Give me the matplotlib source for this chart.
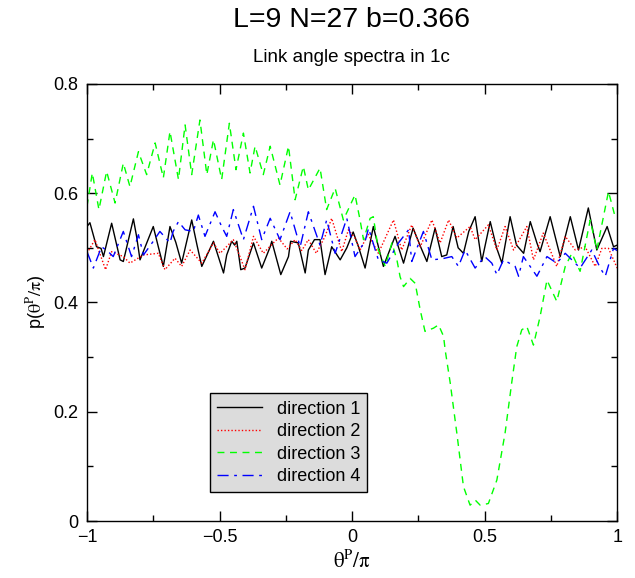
import numpy as np
import matplotlib
matplotlib.use("Agg")
import matplotlib.pyplot as plt

plt.rcParams['font.family'] = ['Liberation Sans', 'DejaVu Sans']
plt.rcParams['mathtext.fontset'] = 'stix'

# direction 1 (black, solid)
x1 = [-1.0, -0.989, -0.964, -0.947, -0.938, -0.907, -0.875, -0.863, -0.825, -0.813,
      -0.800, -0.750, -0.730, -0.712, -0.687, -0.665, -0.643, -0.605, -0.585, -0.567,
      -0.523, -0.485, -0.473, -0.454, -0.443, -0.435, -0.420, -0.404, -0.372, -0.341,
      -0.309, -0.303, -0.269, -0.240, -0.232, -0.203, -0.177, -0.165, -0.142, -0.121,
      -0.102, -0.077, -0.045, -0.020,
      0.004, 0.024, 0.049, 0.080, 0.118, 0.162, 0.194, 0.230, 0.260, 0.282,
      0.313, 0.338, 0.357, 0.381, 0.400, 0.420, 0.440, 0.464, 0.489, 0.521,
      0.545, 0.565, 0.596, 0.620, 0.647, 0.672, 0.697, 0.709, 0.747, 0.785,
      0.823, 0.854, 0.891, 0.923, 0.962, 0.986, 1.0]
y1 = [0.539, 0.546, 0.502, 0.499, 0.484, 0.545, 0.478, 0.475, 0.553, 0.521,
      0.478, 0.539, 0.500, 0.466, 0.539, 0.510, 0.472, 0.551, 0.505, 0.466,
      0.512, 0.454, 0.487, 0.512, 0.505, 0.512, 0.460, 0.463, 0.509, 0.463,
      0.502, 0.512, 0.451, 0.484, 0.512, 0.509, 0.454, 0.496, 0.515, 0.515,
      0.451, 0.502, 0.478, 0.500,
      0.529, 0.502, 0.463, 0.539, 0.466, 0.521, 0.472, 0.536, 0.500, 0.475,
      0.536, 0.484, 0.487, 0.539, 0.500, 0.490, 0.530, 0.557, 0.475, 0.548,
      0.500, 0.472, 0.557, 0.505, 0.490, 0.548, 0.509, 0.493, 0.557, 0.484,
      0.557, 0.496, 0.573, 0.496, 0.539, 0.502, 0.505]

# direction 2 (red, dotted)
x2 = [-1.0, -0.970, -0.930, -0.907, -0.863, -0.838, -0.787, -0.731, -0.706, -0.668,
      -0.643, -0.611, -0.567, -0.523, -0.498, -0.448, -0.404, -0.372, -0.335, -0.297,
      -0.278, -0.245, -0.215, -0.190, -0.165, -0.135, -0.102, -0.077, -0.039, -0.014,
      0.011, 0.030, 0.060, 0.099, 0.156, 0.187, 0.225, 0.257, 0.301, 0.332,
      0.364, 0.395, 0.445, 0.464, 0.514, 0.546, 0.577, 0.609, 0.659, 0.684,
      0.721, 0.772, 0.804, 0.842, 0.879, 0.917, 0.942, 0.967, 1.0]
y2 = [0.490, 0.515, 0.460, 0.493, 0.484, 0.472, 0.487, 0.490, 0.460, 0.481,
      0.466, 0.496, 0.472, 0.509, 0.490, 0.515, 0.460, 0.521, 0.490, 0.509,
      0.518, 0.498, 0.515, 0.495, 0.515, 0.490, 0.521, 0.554, 0.493, 0.533,
      0.518, 0.496, 0.525, 0.490, 0.551, 0.496, 0.542, 0.502, 0.551, 0.509,
      0.551, 0.518, 0.539, 0.515, 0.542, 0.496, 0.539, 0.496, 0.539, 0.478,
      0.527, 0.466, 0.521, 0.496, 0.502, 0.466, 0.499, 0.499, 0.463]

# direction 3 (green, dashed)
x3 = [-1.0, -0.98, -0.955, -0.926, -0.894, -0.863, -0.838, -0.806, -0.775, -0.743,
      -0.712, -0.687, -0.655, -0.630, -0.605, -0.574, -0.548, -0.523, -0.492, -0.463,
      -0.438, -0.410, -0.385, -0.366, -0.335, -0.309, -0.272, -0.240, -0.215, -0.184,
      -0.165, -0.121, -0.096, -0.064, -0.033, 0.011, 0.030, 0.043, 0.068, 0.080,
      0.099, 0.125, 0.150, 0.169, 0.181, 0.194, 0.219, 0.238, 0.257, 0.275,
      0.307, 0.326, 0.345, 0.351, 0.370, 0.395, 0.420, 0.445, 0.465, 0.483,
      0.514, 0.546, 0.577, 0.602, 0.621, 0.640, 0.659, 0.684, 0.709, 0.735,
      0.772, 0.804, 0.829, 0.860, 0.898, 0.923, 0.967, 0.992, 1.0]
y3 = [0.576, 0.637, 0.570, 0.640, 0.582, 0.655, 0.612, 0.676, 0.634, 0.692,
      0.628, 0.713, 0.625, 0.725, 0.634, 0.734, 0.634, 0.698, 0.625, 0.728,
      0.643, 0.710, 0.637, 0.686, 0.634, 0.686, 0.615, 0.686, 0.588, 0.649,
      0.606, 0.646, 0.570, 0.609, 0.551, 0.597, 0.551, 0.515, 0.554, 0.557,
      0.496, 0.466, 0.509, 0.478, 0.447, 0.429, 0.444, 0.435, 0.386, 0.347,
      0.353, 0.359, 0.338, 0.313, 0.253, 0.161, 0.063, 0.029, 0.038, 0.029,
      0.032, 0.075, 0.161, 0.253, 0.319, 0.350, 0.356, 0.322, 0.374, 0.441,
      0.402, 0.466, 0.490, 0.457, 0.551, 0.496, 0.603, 0.557, 0.560]

# direction 4 (blue, dash-dot)
x4 = [-1.0, -0.976, -0.945, -0.920, -0.901, -0.863, -0.832, -0.806, -0.787, -0.750,
      -0.725, -0.687, -0.675, -0.655, -0.630, -0.599, -0.580, -0.555, -0.517, -0.492,
      -0.473, -0.448, -0.410, -0.372, -0.341, -0.309, -0.272, -0.234, -0.196, -0.165,
      -0.121, -0.096, -0.064, -0.020, 0.011, 0.049, 0.062, 0.099, 0.131, 0.175,
      0.213, 0.225, 0.269, 0.301, 0.340, 0.376, 0.401, 0.426, 0.464, 0.500,
      0.527, 0.546, 0.571, 0.615, 0.628, 0.646, 0.697, 0.735, 0.772, 0.804,
      0.860, 0.904, 0.936, 0.955, 0.986, 1.0]
y4 = [0.493, 0.463, 0.502, 0.493, 0.484, 0.530, 0.484, 0.524, 0.487, 0.512,
      0.530, 0.509, 0.530, 0.548, 0.533, 0.530, 0.560, 0.521, 0.566, 0.539,
      0.521, 0.570, 0.515, 0.576, 0.515, 0.554, 0.515, 0.566, 0.502, 0.566,
      0.505, 0.551, 0.490, 0.554, 0.484, 0.512, 0.536, 0.478, 0.472, 0.509,
      0.533, 0.475, 0.530, 0.478, 0.480, 0.484, 0.466, 0.496, 0.463, 0.484,
      0.472, 0.451, 0.478, 0.466, 0.448, 0.484, 0.448, 0.484, 0.472, 0.490,
      0.463, 0.496, 0.463, 0.448, 0.499, 0.495]

labels = ['direction 1', 'direction 2', 'direction 3', 'direction 4']

fig = plt.figure(figsize=(6.35, 5.78), dpi=100)
ax = fig.add_axes([0.137, 0.0986, 0.835, 0.7562])

ax.plot(x1, y1, color='black', lw=1.0, ls='-', label=labels[0])
ax.plot(x2, y2, color='red', lw=1.0, ls=(0, (1, 1.5)), label=labels[1])
ax.plot(x3, y3, color='#00ff00', lw=1.0, ls=(0, (5, 4)), label=labels[2])
ax.plot(x4, y4, color='blue', lw=1.0, ls=(0, (8, 4, 2, 4)), label=labels[3])

ax.set_xlim(-1, 1)
ax.set_ylim(0, 0.8)
ax.set_xticks([-1, -0.5, 0, 0.5, 1])
ax.set_xticklabels(['\u22121', '\u22120.5', '0', '0.5', '1'])
ax.set_xticks([-0.75, -0.25, 0.25, 0.75], minor=True)
ax.set_yticks([0, 0.2, 0.4, 0.6, 0.8])
ax.set_yticklabels(['0', '0.2', '0.4', '0.6', '0.8'])
ax.set_yticks([0.1, 0.3, 0.5, 0.7], minor=True)
ax.tick_params(which='both', direction='in', top=True, right=True, labelsize=13, width=1)
ax.tick_params(which='major', length=7, pad=6)
ax.tick_params(which='minor', length=4)
for s in ax.spines.values():
    s.set_linewidth(1.0)

ax.set_xlabel(r'$\mathrm{\theta^{P}/\pi}$', fontsize=15, labelpad=2)
ax.set_ylabel(r'p($\mathrm{\theta^{P}/\pi}$)', fontsize=13, labelpad=4)

fig.text(0.553, 0.965, 'L=9 N=27 b=0.366', ha='center', va='center', fontsize=20.5)
fig.text(0.553, 0.9, 'Link angle spectra in 1c', ha='center', va='center', fontsize=13.5)

leg = ax.legend(loc='lower left', bbox_to_anchor=(0.232, 0.066), borderaxespad=0,
                fontsize=13, handlelength=2.5, labelspacing=0.3, fancybox=False,
                framealpha=1, borderpad=0.4, handletextpad=0.8)
leg.get_frame().set_facecolor('#dcdcdc')
leg.get_frame().set_edgecolor('black')
leg.get_frame().set_linewidth(1.0)

fig.savefig('out.png', dpi=100)
